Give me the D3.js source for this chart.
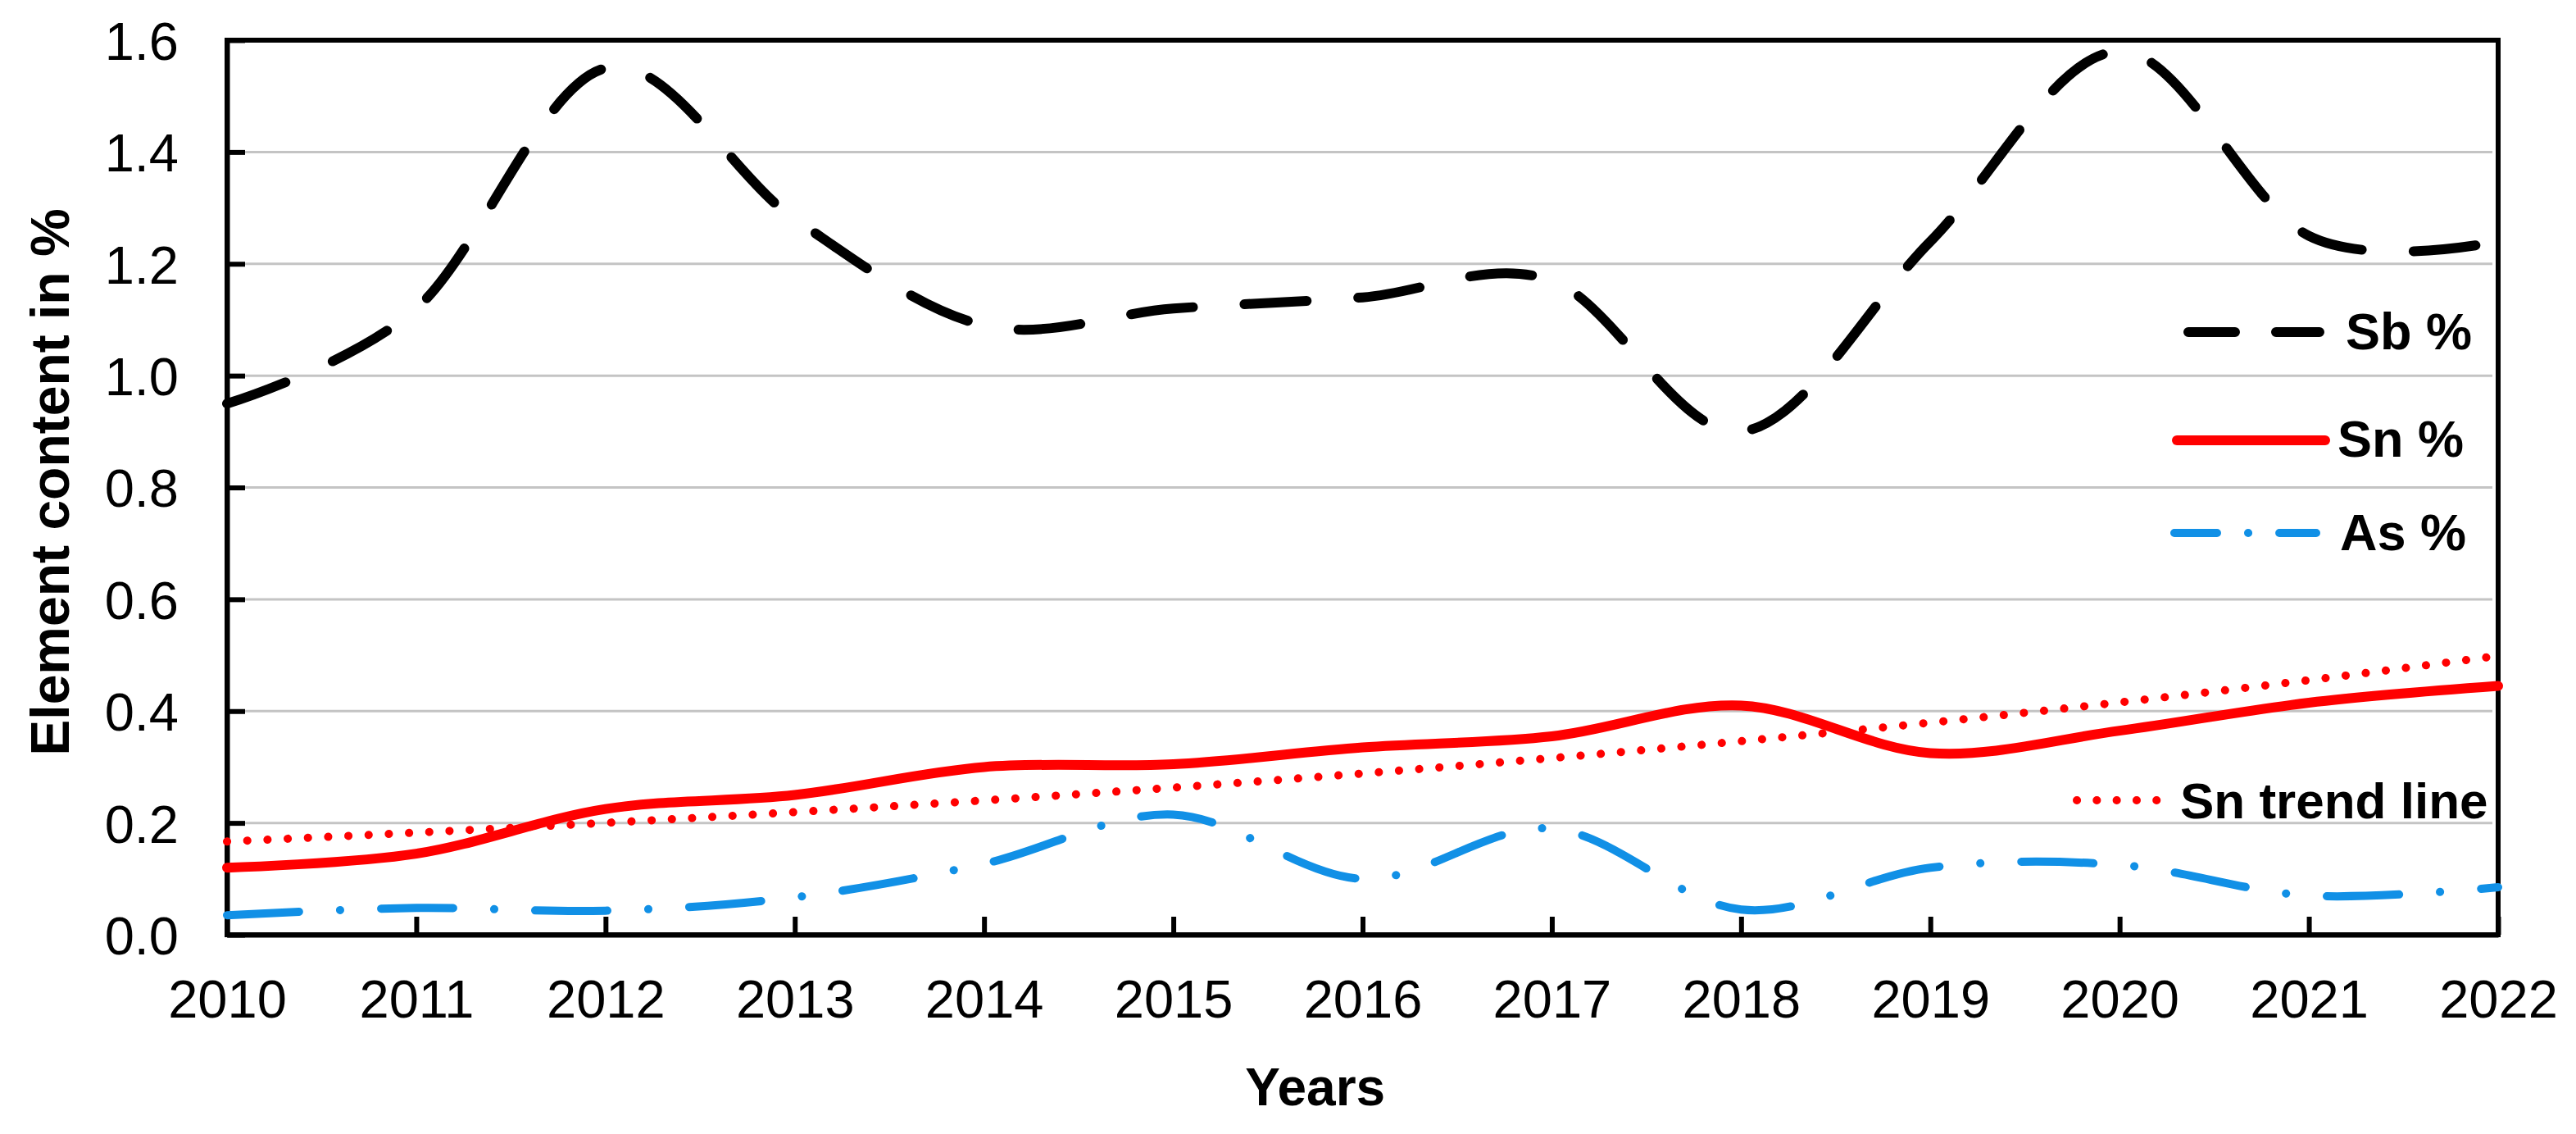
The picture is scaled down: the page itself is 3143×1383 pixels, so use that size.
<!DOCTYPE html>
<html>
<head>
<meta charset="utf-8">
<script src="https://cdn.jsdelivr.net/npm/d3@7"></script>
<style>
  html, body { margin: 0; padding: 0; background: #fff; }
  svg { display: block; }
  text { font-family: "Liberation Sans", Arial, sans-serif; fill: #000; }
</style>
</head>
<body>
<div id="chart"></div>
<script>
// values
let years = [2010, 2011, 2012, 2013, 2014, 2015, 2016, 2017, 2018, 2019, 2020, 2021, 2022];
let sbValues = [0.95, 1.12, 1.55, 1.28, 1.09, 1.12, 1.14, 1.17, 0.90, 1.24, 1.58, 1.25, 1.24];
let snValues = [0.12, 0.145, 0.225, 0.25, 0.30, 0.305, 0.335, 0.355, 0.41, 0.325, 0.365, 0.415, 0.445];
let asValues = [0.035, 0.048, 0.043, 0.067, 0.127, 0.215, 0.10, 0.19, 0.045, 0.12, 0.125, 0.07, 0.085];
let yTicks = [0, 0.2, 0.4, 0.6, 0.8, 1.0, 1.2, 1.4, 1.6];
let legendLabels = ["Sb %", "Sn %", "As %", "Sn trend line"];

let W = 3143, H = 1383;
let margin = {top: 49, right: 95, bottom: 243, left: 277};
let width = W - margin.left - margin.right;
let height = H - margin.top - margin.bottom;

let svg = d3.select("#chart").append("svg")
    .attr("width", W)
    .attr("height", H);
let g = svg.append("g")
    .attr("transform", `translate(${margin.left}, ${margin.top})`);

let x = d3.scaleLinear().domain([2010, 2022]).range([0, width]);
let y = d3.scaleLinear().domain([0, 1.6]).range([height, 0]);

// exponential trend of Sn (least squares on ln values), as Excel does
let lnSn = snValues.map(Math.log);
let mx = d3.mean(years), my = d3.mean(lnSn);
let slope = d3.sum(years, (d, i) => (d - mx) * (lnSn[i] - my)) / d3.sum(years, d => (d - mx) * (d - mx));
let trendValues = years.map(d => Math.exp(my + slope * (d - mx)));

// horizontal grid
g.append("g")
    .selectAll("line")
    .data(yTicks.filter(d => d > 0 && d < 1.6))
    .enter().append("line")
        .attr("x1", 0)
        .attr("x2", width - 7)
        .attr("y1", d => y(d))
        .attr("y2", d => y(d))
        .style("stroke", "#c4c4c4")
        .style("stroke-width", 3);

// frame
g.append("rect")
    .attr("x", 0).attr("y", 0)
    .attr("width", width).attr("height", height)
    .style("fill", "none")
    .style("stroke", "#000")
    .style("stroke-width", 6);

let xAxis = g.append("g")
    .attr("transform", `translate(0, ${height})`)
    .call(d3.axisBottom(x).tickValues(years).tickFormat(d3.format("d"))
        .tickSizeInner(-22).tickSizeOuter(0).tickPadding(55));
let yAxis = g.append("g")
    .call(d3.axisLeft(y).tickValues(yTicks).tickFormat(d3.format(".1f"))
        .tickSizeInner(-22).tickSizeOuter(0).tickPadding(59));

[xAxis, yAxis].forEach(a => {
    a.select(".domain").style("stroke", "#000").style("stroke-width", 6);
    a.selectAll(".tick line").style("stroke", "#000").style("stroke-width", 6);
    a.selectAll(".tick text")
        .style("font-size", "65px")
        .style("font-family", "'Liberation Sans', Arial, sans-serif")
        .style("fill", "#000");
});
yAxis.selectAll(".tick text").attr("dy", "0.36em");

// series
let smooth = d3.curveCardinal.tension(0);
function drawSeries(values, color, lineWidth, dash, curve) {
    let line = d3.line()
        .x((d, i) => x(years[i]))
        .y(d => y(d))
        .curve(curve);
    g.append("path")
        .datum(values)
        .attr("d", line)
        .style("fill", "none")
        .style("stroke", color)
        .style("stroke-width", lineWidth)
        .style("stroke-linecap", "round")
        .style("stroke-linejoin", "round")
        .style("stroke-dasharray", dash);
}

drawSeries(trendValues, "#ff0000", 10, "0.1,24.6", d3.curveMonotoneX);
drawSeries(asValues, "#1190e6", 10, "88,50,0.1,50", smooth);
drawSeries(snValues, "#ff0000", 12, null, smooth);
drawSeries(sbValues, "#000000", 12, "76,63", smooth);

// legend
let legendItems = [
    {label: legendLabels[0], color: "#000", w: 12, dash: "57,50", x1: 2670, x2: 2830, ly: 405, tx: 2862, ty: 426, fs: 63},
    {label: legendLabels[1], color: "#ff0000", w: 12, dash: null, x1: 2656, x2: 2837, ly: 537, tx: 2852, ty: 557, fs: 63},
    {label: legendLabels[2], color: "#1190e6", w: 10, dash: "52,38,0.1,38,100", x1: 2653, x2: 2826, ly: 650, tx: 2855, ty: 671, fs: 63},
    {label: legendLabels[3], color: "#ff0000", w: 10, dash: "0.1,24.2", x1: 2534, x2: 2632, ly: 976, tx: 2660, ty: 998, fs: 62}
];
let legend = svg.append("g");
legendItems.forEach(d => {
    legend.append("line")
        .attr("x1", d.x1).attr("x2", d.x2)
        .attr("y1", d.ly).attr("y2", d.ly)
        .style("stroke", d.color)
        .style("stroke-width", d.w)
        .style("stroke-linecap", "round")
        .style("stroke-dasharray", d.dash);
    legend.append("text")
        .attr("x", d.tx).attr("y", d.ty)
        .style("font-size", d.fs + "px")
        .style("font-weight", "bold")
        .text(d.label);
});

// axis titles
svg.append("text")
    .attr("x", margin.left + x(2015.75))
    .attr("y", 1348)
    .attr("text-anchor", "middle")
    .style("font-size", "64px")
    .style("font-weight", "bold")
    .text("Years");

svg.append("text")
    .attr("transform", `translate(84, 588) rotate(-90)`)
    .attr("text-anchor", "middle")
    .style("font-size", "66px")
    .style("font-weight", "bold")
    .text("Element content in %");
</script>
</body>
</html>
